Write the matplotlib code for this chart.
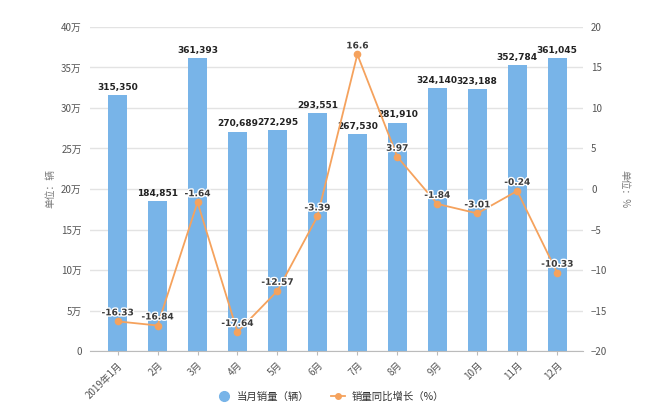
import matplotlib
matplotlib.use("Agg")
import matplotlib.pyplot as plt
import matplotlib.patheffects as pe
from matplotlib.lines import Line2D
import numpy as np

plt.rcParams['font.family'] = ['Noto Sans CJK SC', 'DejaVu Sans']

months = ['2019年1月', '2月', '3月', '4月', '5月', '6月', '7月', '8月', '9月', '10月', '11月', '12月']
sales = [315350, 184851, 361393, 270689, 272295, 293551, 267530, 281910, 324140, 323188, 352784, 361045]
growth = [-16.33, -16.84, -1.64, -17.64, -12.57, -3.39, 16.6, 3.97, -1.84, -3.01, -0.24, -10.33]
left_ticks = [0, 50000, 100000, 150000, 200000, 250000, 300000, 350000, 400000]
left_labels = ['0', '5万', '10万', '15万', '20万', '25万', '30万', '35万', '40万']
right_ticks = [-20, -15, -10, -5, 0, 5, 10, 15, 20]

bar_color = '#78b4e8'
line_color = '#f5a25d'
tick_color = '#555555'

fig = plt.figure(figsize=(6.5, 4.2), dpi=100)
ax = fig.add_axes([0.1385, 0.164, 0.758, 0.772])
ax2 = ax.twinx()

x = np.arange(len(months))
ax.bar(x, sales, width=0.475, color=bar_color, zorder=2)
ax.set_ylim(0, 400000)
ax.set_xlim(-0.69, len(months) - 1 + 0.64)
ax.set_yticks(left_ticks)
ax.set_yticklabels(left_labels)
ax.grid(axis='y', color='#e3e3e3', linewidth=1.0, zorder=0)
ax.set_axisbelow(True)
for s in ['top', 'right', 'left']:
    ax.spines[s].set_visible(False)
ax.spines['bottom'].set_color('#bbbbbb')
ax.tick_params(axis='y', length=0, labelsize=7, colors=tick_color, pad=6)
ax.tick_params(axis='x', length=3, color='#bbbbbb', labelsize=7, colors=tick_color)
ax.set_xticks(x)
ax.set_xticklabels(months, rotation=45, ha='right', rotation_mode='anchor')
ax.set_ylabel('单位：辆', fontsize=7, color='#777777', labelpad=4)

for xi, v in zip(x, sales):
    ax.text(xi, v + 4000, f'{v:,}', ha='center', va='bottom', fontsize=6.5,
            fontweight='bold', color='#222222', zorder=5, family=['DejaVu Sans'])

ax2.plot(x, growth, color=line_color, linewidth=1.3, marker='o', markersize=4.5, zorder=4)
ax2.set_ylim(-20, 20)
ax2.set_yticks(right_ticks)
for s in ['top', 'right', 'left', 'bottom']:
    ax2.spines[s].set_visible(False)
ax2.tick_params(axis='y', length=0, labelsize=7, colors=tick_color, pad=6)
ax2.set_ylabel('单位：%', fontsize=7, color='#777777', rotation=270, labelpad=16)

for xi, v in zip(x, growth):
    t = ax2.text(xi, v + 0.5, f'{v:g}', ha='center', va='bottom', fontsize=6.5,
                 fontweight='bold', color='#3a3a3a', zorder=6, family=['DejaVu Sans'])
    t.set_path_effects([pe.withStroke(linewidth=2, foreground='white')])

handles = [
    Line2D([], [], marker='o', linestyle='none', markersize=7, color=bar_color),
    Line2D([], [], marker='o', linestyle='-', markersize=4, color=line_color, linewidth=1.3),
]
fig.legend(handles, ['当月销量（辆）', '销量同比增长（%）'], loc='center',
           bbox_to_anchor=(0.508, 0.055), ncol=2, frameon=False, fontsize=7.5,
           handlelength=1.4, handletextpad=0.6, columnspacing=2.0, labelcolor='#333333')

fig.savefig('out.png', dpi=100, facecolor='white')
